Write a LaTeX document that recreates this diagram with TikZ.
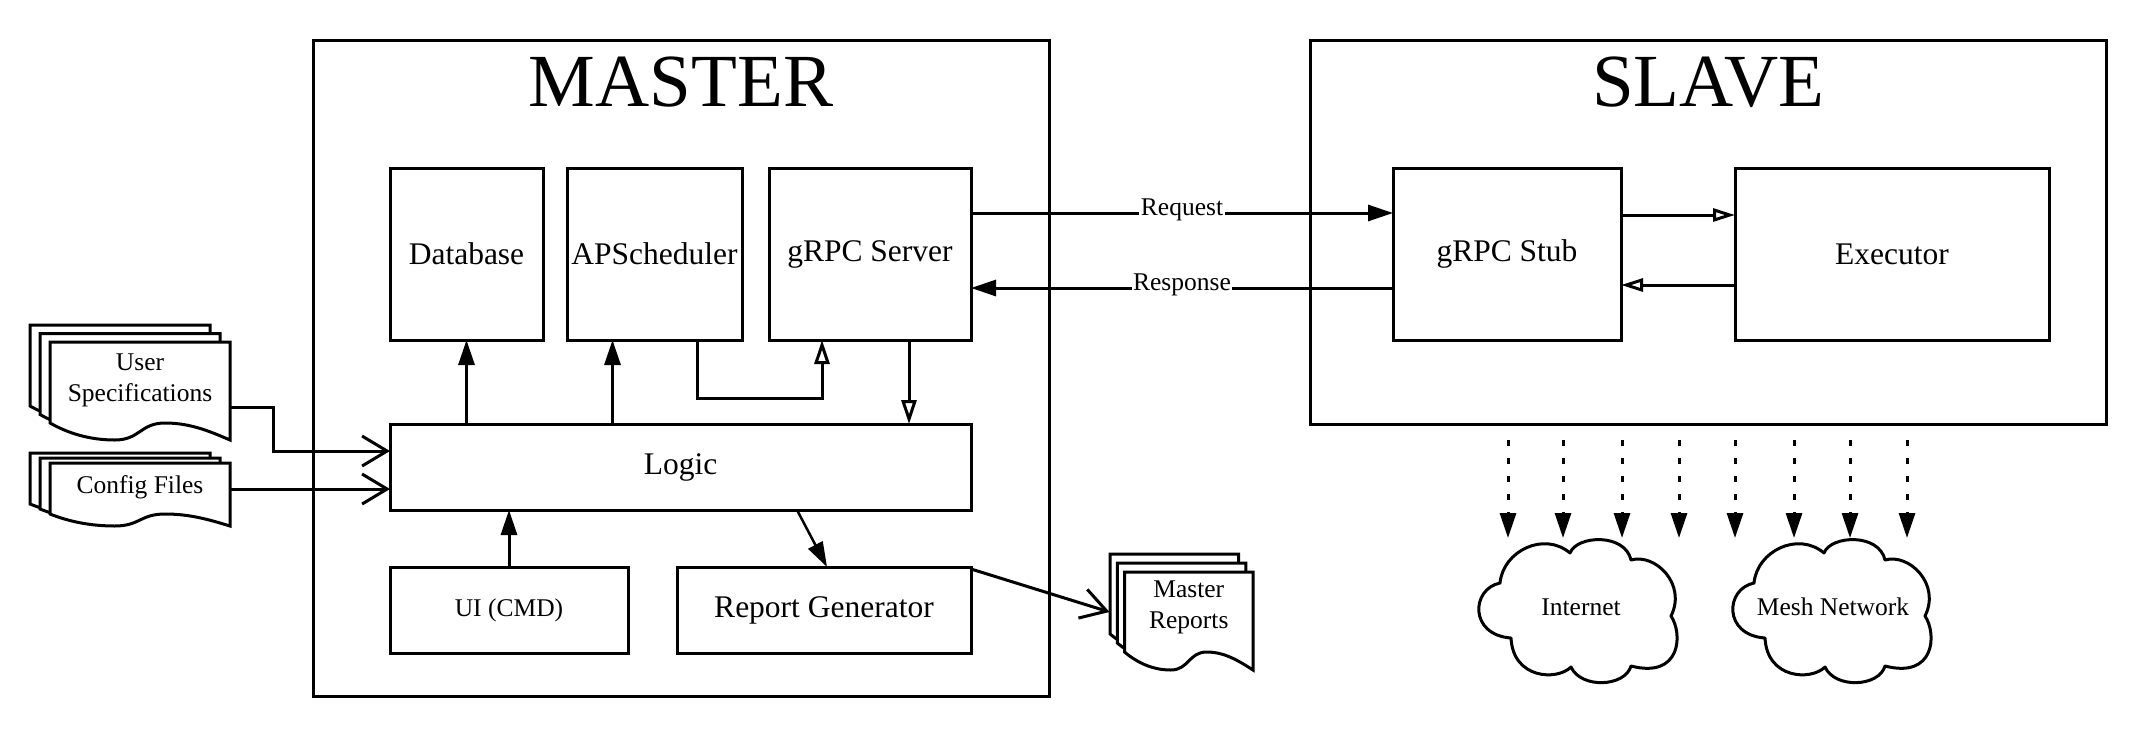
\documentclass[tikz,border=0pt]{standalone}
\usepackage{fontspec}
\setmainfont{Liberation Serif}
\usetikzlibrary{arrows.meta,positioning}
\newcommand{\sizeA}{\fontsize{25.5}{31}\selectfont}
\newcommand{\sizeB}{\fontsize{31.5}{38}\selectfont}
\newcommand{\sizeC}{\fontsize{75}{80}\selectfont}
\tikzset{
  block/.style={draw, line width=3pt, outer sep=0pt, inner sep=0pt, align=center, font=\sizeB},
  tierbox/.style={draw, line width=3pt, outer sep=0pt},
  tiertitle/.style={inner sep=0pt, font=\sizeC},
  pagesheet/.style={draw, line width=3pt, fill=white, line join=miter},
  doctext/.style={inner sep=0pt, outer sep=0pt, align=center, font=\sizeA},
  cloudtext/.style={inner sep=0pt, font=\sizeA},
  wire/.style={-{Triangle[length=25pt,width=16pt]}, line width=3pt},
  hollowwire/.style={-{Triangle[open,length=24pt,width=15pt]}, line width=3pt},
  sidewire/.style={-{Triangle[open,length=22pt,width=13pt]}, line width=3pt},
  feedwire/.style={-{Straight Barb[length=25pt,width=30pt]}, line width=3pt},
  dashwire/.style={-{Triangle[length=25pt,width=16pt]}, line width=3pt, dash pattern=on 6pt off 12pt},
  labelbox/.style={fill=white, inner sep=1.5pt, font=\sizeA},
  cloudshape/.pic={
    \draw[line width=3pt, line join=round] (21,44) .. controls (24,12) and (65,-8) .. (91,14)
      .. controls (98,-4) and (146,-6) .. (152,21)
      .. controls (176,14) and (208,45) .. (192,77)
      .. controls (204,95) and (202,140) .. (152,127)
      .. controls (146,148) and (102,150) .. (92,128)
      .. controls (78,142) and (34,140) .. (32,99)
      .. controls (-10,96) and (-8,50) .. (21,44) -- cycle;
  }
}
% #1,#2 front page corner, #3 width, #4 height, #5 wave, #6,#7 step to the pages behind
\newcommand{\docstack}[7]{
  \foreach \n in {2,1,0}{
    \draw[pagesheet, shift={(\n*#6,\n*#7)}] (#1,#2) -- (#1+#3,#2) -- (#1+#3,#2+#4)
      .. controls (#1+.89*#3,#2+#4-.5*#5) and (#1+.78*#3,#2+#4-#5) .. (#1+.64*#3,#2+#4-#5)
      .. controls (#1+.5*#3,#2+#4-#5) and (#1+.5*#3,#2+#4) .. (#1+.36*#3,#2+#4)
      .. controls (#1+.22*#3,#2+#4) and (#1+.1*#3,#2+#4-.4*#5) .. (#1,#2+#4-#5) -- cycle;
  }
}

\begin{document}
\begin{tikzpicture}[x=1pt, y=-1pt]
  \useasboundingbox (0,0) rectangle (2139,737);
  \node[tierbox, minimum width=736pt, minimum height=656pt] (masterbox) at (681,368) {};
  \node[tiertitle] (mastertitle) at (681,82) {MASTER};
  \node[tierbox, minimum width=796pt, minimum height=384pt] (slavebox) at (1708,232) {};
  \node[tiertitle] (slavetitle) at (1708,82) {SLAVE};

  \node[block, minimum width=153pt, minimum height=172pt] (database) at (466.5,254) {Database};
  \node[block, minimum width=175pt, minimum height=172pt, right=24pt of database] (apsched) {APScheduler};
  \node[block, minimum width=202pt, minimum height=172pt, right=27pt of apsched] (server) {gRPC Server};
  \node[block, minimum width=581pt, minimum height=86pt, anchor=north west] (logic) at (390,424) {Logic};
  \node[block, minimum width=238pt, minimum height=86pt, font=\sizeA, anchor=north west] (ui) at (390,567) {UI (CMD)};
  \node[block, minimum width=294pt, minimum height=86pt, right=49pt of ui] (report) {Report Generator};
  \node[block, minimum width=228pt, minimum height=172pt] (stub) at (1507,254) {gRPC Stub};
  \node[block, minimum width=314pt, minimum height=172pt, right=114pt of stub] (executor) {Executor};

  \docstack{50}{342}{180}{98}{17}{-10}{-8.5}
  \docstack{50}{463}{180}{63}{12}{-10}{-5}
  \docstack{1124.5}{572}{128.5}{98}{18}{-7.2}{-9}
  \node[doctext, minimum width=180pt] (userspec) at (140,380) {User\\Specifications};
  \node[doctext, minimum width=180pt] (config) at (140,487) {Config Files};
  \node[doctext, minimum width=128.5pt] (reports) at (1188.75,607) {Master\\Reports};

  \pic at (1479,539) {cloudshape};
  \pic at (1733,539) {cloudshape};
  \node[cloudtext] (internet) at (1581,607) {Internet};
  \node[cloudtext] (mesh) at (1833,607) {Mesh Network};

  \draw[wire] (logic.north -| database.south) -- (database.south);
  \draw[wire] ([xshift=-42pt]apsched.south |- logic.north) -- ([xshift=-42pt]apsched.south);
  \draw[wire] (ui.north) -- (ui.north |- logic.south);
  \draw[wire, line width=2.5pt] ([xshift=-27pt]report.north |- logic.south) -- ([xshift=3pt]report.north);
  \draw[hollowwire] ([xshift=43pt]apsched.south) -- ++(0,58) -| ([xshift=-48pt]server.south);
  \draw[hollowwire] ([xshift=39pt]server.south) -- ([xshift=39pt]server.south |- logic.north);
  \draw[wire] ([yshift=41pt]server.east) -- node[labelbox, yshift=3pt]{Request} ([yshift=41pt]server.east -| stub.west);
  \draw[wire] ([yshift=-34pt]stub.west) -- node[labelbox, yshift=3pt]{Response} ([yshift=-34pt]stub.west -| server.east);
  \draw[sidewire] ([yshift=39pt]stub.east) -- ([yshift=39pt]stub.east -| executor.west);
  \draw[sidewire] ([yshift=-31pt]executor.west) -- ([yshift=-31pt]executor.west -| stub.east);
  \draw[feedwire] ([yshift=-27pt]userspec.east) -- ++(43,0) |- ([yshift=16pt]logic.west);
  \draw[feedwire] ([yshift=-2pt]config.east) -- ([yshift=-22pt]logic.west);
  \draw[feedwire] ([yshift=41pt]report.east) -- ([xshift=-15pt,yshift=-5pt]reports.west);

  \foreach \i/\x in {1/1508,2/1563,3/1622,4/1679,5/1735,6/1794,7/1850,8/1907}{
    \coordinate (from\i) at (\x,440);
    \coordinate (to\i) at (\x,538);
    \draw[dashwire] (from\i) -- (to\i);
  }
\end{tikzpicture}
\end{document}
